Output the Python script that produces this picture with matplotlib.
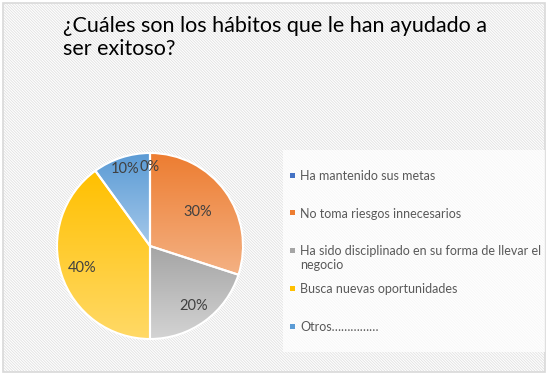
import textwrap

import matplotlib
matplotlib.use("Agg")
import matplotlib.pyplot as plt
import numpy as np
from matplotlib.colors import to_rgb
from matplotlib.patches import Rectangle

TITLE = "¿Cuáles son los hábitos que le han ayudado a\nser exitoso?"
CATEGORIES = [
    "Ha mantenido sus metas",
    "No toma riesgos innecesarios",
    "Ha sido disciplinado en su forma de llevar el negocio",
    "Busca nuevas oportunidades",
    "Otros……………",
]
VALUES = [0, 30, 20, 40, 10]

# colores tipo Excel: tono arriba / tono abajo del degradado
TOP = ["#4472C4", "#ED7D31", "#A5A5A5", "#FFC000", "#5B9BD5"]
BOTTOM = ["#8FAADC", "#F4B183", "#D3D3D3", "#FFD966", "#A4C8EA"]
LABEL_DIST = [0.85, 0.63, 0.80, 0.77, 0.87]

W, H = 549, 375
plt.rcParams["font.family"] = ["Lato", "DejaVu Sans"]
plt.rcParams["hatch.linewidth"] = 0.6

fig = plt.figure(figsize=(W / 100, H / 100), dpi=100)
fig.patch.set_facecolor("white")


def fx(px):
    return px / W


def fy(py):
    return 1 - py / H


# fondo rayado + marco
fig.patches.append(Rectangle((fx(3), fy(372)), fx(542), (369) / H, transform=fig.transFigure,
                             facecolor="white", edgecolor="#e0e0e0", hatch="\\" * 12, lw=0, zorder=-2))
fig.patches.append(Rectangle((fx(3), fy(372)), fx(542), (369) / H, transform=fig.transFigure,
                             facecolor="none", edgecolor="#d9d9d9", lw=1.2, zorder=-1))
# caja de la leyenda
fig.patches.append(Rectangle((fx(283), fy(352)), fx(262), 202 / H, transform=fig.transFigure,
                             facecolor="white", edgecolor="none", alpha=0.75, zorder=-1))

fig.text(fx(63), fy(16), TITLE, ha="left", va="top", fontsize=15.5, color="black",
         linespacing=1.2)

# pastel
cx, cy, r = 150, 246, 93
ax = fig.add_axes([fx(cx - r), fy(cy + r), 2 * r / W, 2 * r / H])
ax.set_zorder(1)
wedges, _ = ax.pie(VALUES, startangle=90, counterclock=False, radius=1,
                   wedgeprops=dict(edgecolor="white", linewidth=1.5, facecolor="none"))
ax.axis("off")

for w, top, bot, d, v in zip(wedges, TOP, BOTTOM, LABEL_DIST, VALUES):
    w.set_zorder(3)
    if v > 0:
        ext = w.get_path().get_extents()
        t = np.linspace(0, 1, 64)[:, None]
        grad = (1 - t) * np.array(to_rgb(top)) + t * np.array(to_rgb(bot))
        img = ax.imshow(grad[:, None, :].repeat(2, axis=1),
                        extent=[ext.x0, ext.x1, ext.y0, ext.y1], origin="upper",
                        aspect="auto", zorder=2, interpolation="bilinear")
        img.set_clip_path(w)
    ang = np.deg2rad((w.theta1 + w.theta2) / 2)
    ax.text(d * np.cos(ang), d * np.sin(ang), f"{v:.0f}%", ha="center", va="center",
            fontsize=10.5, color="#404040", zorder=4)
ax.set_xlim(-1, 1)
ax.set_ylim(-1, 1)

# leyenda manual
slot_y = [175, 212.5, 250, 288, 326]
for name, col, y in zip(CATEGORIES, TOP, slot_y):
    fig.patches.append(Rectangle((fx(290), fy(y + 2.5)), fx(5), 5 / H, transform=fig.transFigure,
                                 facecolor=col, edgecolor="none", zorder=2))
    fig.text(fx(300), fy(y - 5), textwrap.fill(name, 46), ha="left", va="top",
             fontsize=9, color="#595959", linespacing=1.2)

fig.savefig("out.png", dpi=100)
